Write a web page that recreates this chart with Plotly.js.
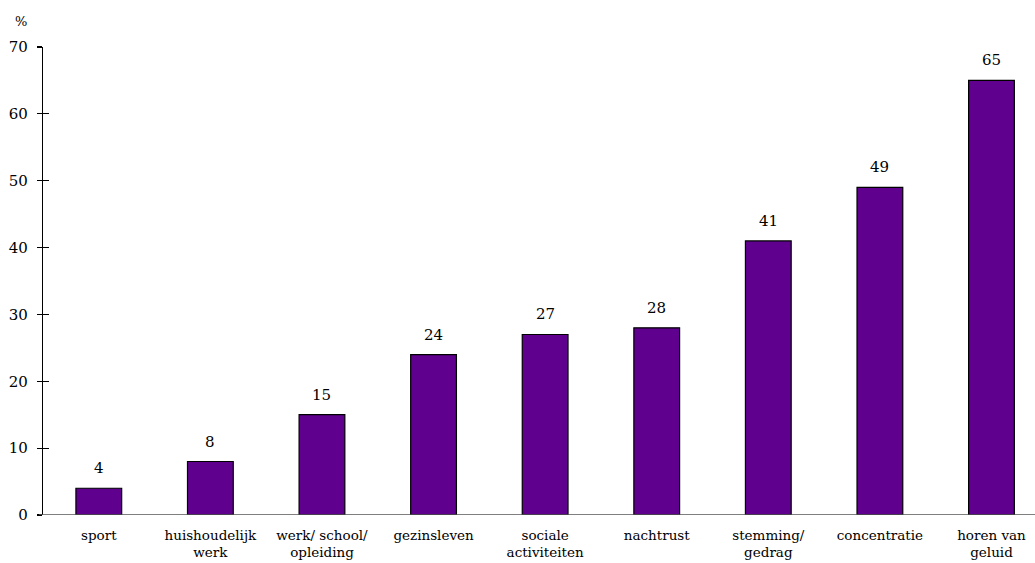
<!DOCTYPE html>
<html>
<head>
<meta charset="utf-8">
<script src="https://cdn.plot.ly/plotly-3.0.1.min.js"></script>
<style>html,body{margin:0;padding:0;background:#fff}#chart{width:1035px;height:563px}</style>
</head>
<body>
<div id="chart"></div>
<script>
const categories = ["sport", "huishoudelijk<br>werk", "werk/ school/<br>opleiding", "gezinsleven", "sociale<br>activiteiten", "nachtrust", "stemming/<br>gedrag", "concentratie", "horen van<br>geluid"];
const values = [4, 8, 15, 24, 27, 28, 41, 49, 65];
const yTicks = [0, 10, 20, 30, 40, 50, 60, 70];

const font = "DejaVu Serif, Liberation Serif, serif";
const idx = categories.map((c, i) => i);

const trace = {
  type: "bar",
  x: idx,
  y: values,
  width: 0.41,
  marker: {color: "#5f008f", line: {color: "#000", width: 1.2}},
  hoverinfo: "none"
};

const labelAnnotations = values.map((v, i) => ({
  x: idx[i], y: v, xref: "x", yref: "y",
  text: String(v), showarrow: false,
  xanchor: "center", yanchor: "bottom", yshift: 9,
  font: {family: font, size: 15, color: "#000"}
}));

const layout = {
  width: 1035, height: 563,
  margin: {l: 43, r: 0, t: 47, b: 48},
  paper_bgcolor: "#fff", plot_bgcolor: "#fff",
  showlegend: false,
  bargap: 0.59,
  font: {family: font, size: 13, color: "#000"},
  xaxis: {
    range: [-0.5, 8.39],
    tickmode: "array", tickvals: idx, ticktext: categories,
    ticks: "", showgrid: false, zeroline: false,
    showline: false,
    tickfont: {family: font, size: 13.5, color: "#000"},
    ticklabelstandoff: 10,
    automargin: false
  },
  yaxis: {
    range: [0, 70],
    tickmode: "array", tickvals: yTicks,
    ticks: "outside", ticklen: 5, tickcolor: "#000", tickwidth: 1.2,
    showline: true, linecolor: "#000", linewidth: 1.2,
    showgrid: false, zeroline: false,
    tickfont: {family: font, size: 15, color: "#000"},
    ticklabelstandoff: 6,
    automargin: false
  },
  yaxis2: {
    overlaying: "y", range: [0, 70], tickmode: "array", tickvals: yTicks,
    ticks: "inside", ticklen: 6, tickcolor: "#000", tickwidth: 1.2,
    showticklabels: false, showgrid: false, zeroline: false, showline: false
  },
  shapes: [{
    type: "line", xref: "paper", yref: "y", x0: -0.004, x1: 1, y0: 0, y1: 0,
    line: {color: "#555", width: 1.5}
  }],
  annotations: labelAnnotations.concat([{
    text: "%", xref: "paper", yref: "paper", x: -0.022, y: 1.035,
    xanchor: "center", yanchor: "bottom", showarrow: false,
    font: {family: font, size: 13, color: "#000"}
  }])
};

const dummy = {type: "scatter", x: [0], y: [0], yaxis: "y2", mode: "markers", marker: {opacity: 0}, hoverinfo: "none"};

Plotly.newPlot("chart", [trace, dummy], layout, {staticPlot: true});
</script>
</body>
</html>
